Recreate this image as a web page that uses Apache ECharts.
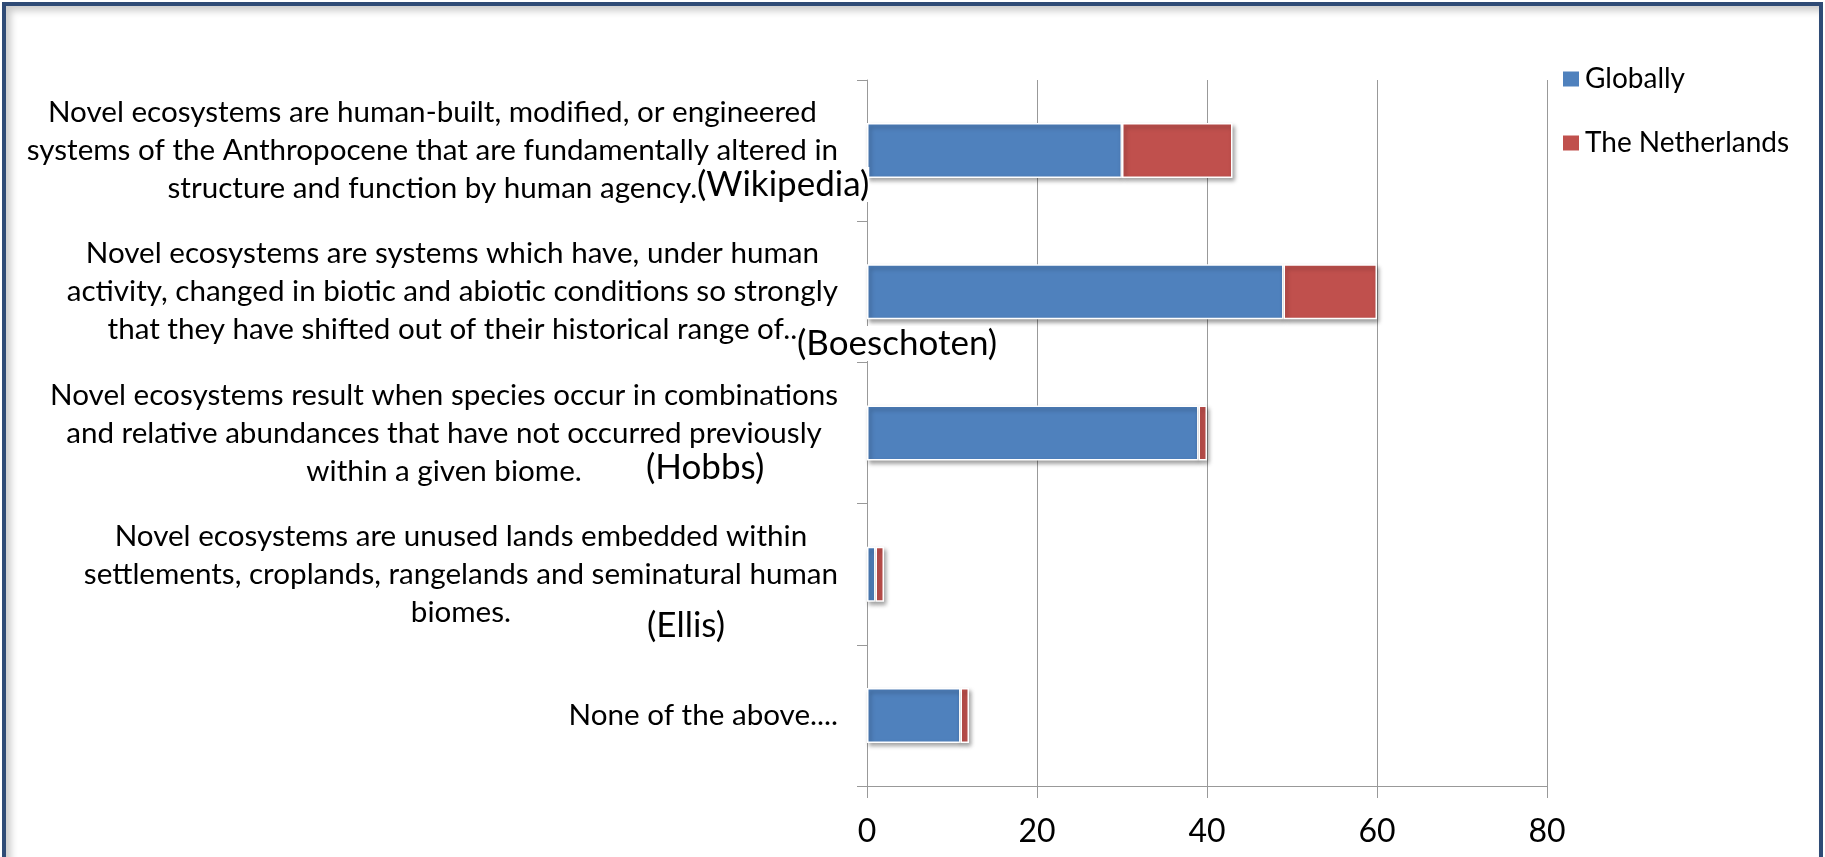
<!DOCTYPE html>
<html><head><meta charset="utf-8">
<script src="https://cdn.jsdelivr.net/npm/echarts@6/dist/echarts.min.js"></script>
<style>
html,body{margin:0;padding:0;background:#fff;overflow:hidden;}
#chart{position:absolute;left:0;top:0;width:1825px;height:857px;}
#frame{position:absolute;left:2px;top:2px;width:1813px;height:900px;border:4px solid #2f4b76;border-bottom:none;box-shadow:inset 5px 5px 7px rgba(0,0,0,0.2);pointer-events:none;}
</style></head>
<body>
<div id="chart"></div>
<div id="frame"></div>
<script>
const categories = [
  'Novel ecosystems are human-built, modified, or engineered\nsystems of the Anthropocene that are fundamentally altered in\nstructure and function by human agency.',
  'Novel ecosystems are systems which have, under human\nactivity, changed in biotic and abiotic conditions so strongly\nthat they have shifted out of their historical range of..',
  'Novel ecosystems result when species occur in combinations\nand relative abundances that have not occurred previously\nwithin a given biome.',
  'Novel ecosystems are unused lands embedded within\nsettlements, croplands, rangelands and seminatural human\nbiomes.',
  'None of the above....'
];
const seriesNames = ['Globally', 'The Netherlands'];
const globally = [30, 49, 39, 1, 11];
const netherlands = [13, 11, 1, 1, 1];
const xTickValues = [0, 20, 40, 60, 80];
const sources = ['(Wikipedia)', '(Boeschoten)', '(Hobbs)', '(Ellis)'];

// layout (pixels) for the source annotations
const annLayout = [[697, 167], [797, 326], [646, 450], [647, 608]];

const FONT = 'Lato, "Open Sans", sans-serif';
const AXIS_GRAY = '#999999';
const chart = echarts.init(document.getElementById('chart'));
const barStyle = (c) => ({
  color: c, borderColor: '#ffffff', borderWidth: 1.5,
  shadowColor: 'rgba(0,0,0,0.35)', shadowBlur: 4, shadowOffsetX: 2, shadowOffsetY: 3
});
chart.setOption({
  animation: false,
  backgroundColor: '#ffffff',
  grid: { left: 867, right: 278, top: 80, bottom: 71, containLabel: false },
  legend: {
    orient: 'vertical', left: 1556, top: 59, itemWidth: 18, itemHeight: 17, itemGap: 34,
    icon: 'rect', data: seriesNames,
    textStyle: { fontFamily: FONT, fontSize: 28, color: '#000', lineHeight: 30 }
  },
  xAxis: {
    type: 'value', min: xTickValues[0], max: xTickValues[xTickValues.length - 1],
    interval: xTickValues[1] - xTickValues[0],
    axisLine: { show: true, lineStyle: { color: AXIS_GRAY, width: 1 } },
    axisTick: { show: true, length: 12, lineStyle: { color: AXIS_GRAY } },
    splitLine: { show: true, lineStyle: { color: AXIS_GRAY, width: 1 } },
    axisLabel: { fontFamily: FONT, fontSize: 32, color: '#000', margin: 30 }
  },
  yAxis: {
    type: 'category', data: categories, inverse: true,
    axisLine: { show: true, lineStyle: { color: AXIS_GRAY, width: 1 } },
    axisTick: { show: true, length: 10, lineStyle: { color: AXIS_GRAY } },
    axisLabel: {
      margin: 29, align: 'right',
      formatter: function (value) {
        return value.split('\n').map(function (l) { return '{c|' + l + '}'; }).join('\n');
      },
      rich: {
        c: { fontFamily: FONT, fontSize: 29.6, color: '#000', lineHeight: 38, align: 'center' }
      }
    }
  },
  series: [
    { type: 'bar', name: seriesNames[0], stack: 'total', data: globally, barWidth: 55, itemStyle: barStyle('#4F81BD') },
    { type: 'bar', name: seriesNames[1], stack: 'total', data: netherlands, barWidth: 55, itemStyle: barStyle('#C0504D') }
  ],
  graphic: sources.map(function (s, i) {
    return {
      type: 'text', left: annLayout[i][0], top: annLayout[i][1], z: 100,
      style: { text: s, font: '35px ' + FONT, fill: '#000', backgroundColor: '#fff' }
    };
  })
});
</script>
</body></html>
